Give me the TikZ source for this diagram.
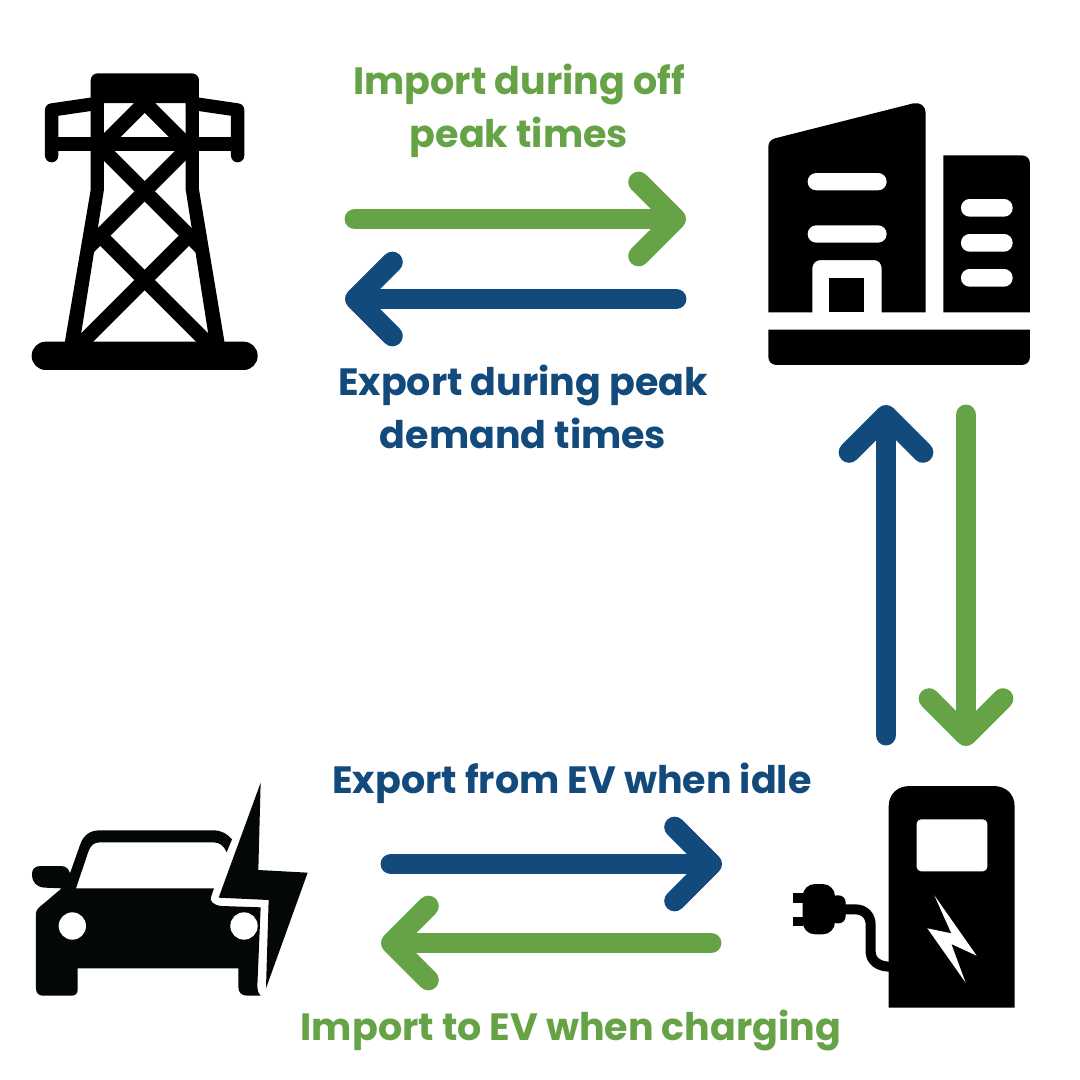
\documentclass[tikz,border=0pt]{standalone}
\usepackage{fontspec}
\setmainfont{Poppins}
\usetikzlibrary{arrows.meta}
\definecolor{ggreen}{HTML}{66A346}
\definecolor{gblue}{HTML}{134A7C}
\definecolor{carblack}{HTML}{040707}
\tikzset{
  x=0.02cm,y=-0.02cm,
  zoomed/.style={x=0.02cm/3,y=-0.02cm/3},
  flow/.style={line width=11.9pt,line cap=round,line join=round,
    -{Straight Barb[length=21pt,width=42pt,round]}},
  greenflow/.style={flow,draw=ggreen},
  blueflow/.style={flow,draw=gblue},
  label/.style={font=\fontsize{21.65pt}{30pt}\selectfont\bfseries,align=center,inner sep=0pt},
  truss/.style={draw=black,line width=8.2pt},
  frame/.style={draw=black,line width=7.6pt,line join=round},
  slot/.style={fill=white,rounded corners=4.9pt},
}
\begin{document}
\begin{tikzpicture}
\useasboundingbox[fill=white] (0,0) rectangle (1080,1080);
% transmission tower
\begin{scope}[shift={(20,60)},zoomed]
  \fill[rounded corners=4pt] (212,40) rectangle (537,129);
  \fill (212,100) rectangle (537,129);
  \fill[rounded corners=8pt] (35,845) rectangle (713,930);
  \fill (212,110) -- (212,390) -- (133,855) -- (178,855) -- (252,388) -- (252,110) -- cycle;
  \fill (537,110) -- (537,388) -- (615,855) -- (570,855) -- (497,388) -- (497,110) -- cycle;
  \draw[frame,line cap=round] (95,287) -- (95,150) -- (232,130);
  \draw[frame,line cap=round] (653,287) -- (653,150) -- (517,130);
  \draw[frame] (95,252) -- (653,252);
  \draw[truss] (374,128) -- (232,270);
  \draw[truss] (374,128) -- (516,270);
  \draw[truss] (232,252) -- (543,563);
  \draw[truss] (516,252) -- (205,563);
  \draw[truss] (232,518) -- (565,851);
  \draw[truss] (516,518) -- (183,851);
\end{scope}
% office buildings
\begin{scope}[shift={(750,90)},zoomed]
  \fill (55,667) -- (55,170) .. controls (55,155) and (65,148) .. (75,145)
    -- (490,40) .. controls (510,36) and (527,48) .. (527,68) -- (527,667)
    -- (395,667) -- (395,535) .. controls (395,520) and (385,510) .. (370,510)
    -- (213,510) .. controls (198,510) and (187,520) .. (187,535) -- (187,667) -- cycle;
  \fill (238,563) rectangle (343,667);
  \fill (580,196) -- (815,196) .. controls (830,196) and (840,206) .. (840,221) -- (840,667) -- (580,667) -- cycle;
  \fill (55,719) -- (840,719) -- (840,800) .. controls (840,815) and (830,825) .. (815,825)
    -- (80,825) .. controls (65,825) and (55,815) .. (55,800) -- cycle;
  \path[slot] (173,249) rectangle (410,301);
  \path[slot] (173,406) rectangle (410,458);
  \path[slot] (633,327) rectangle (788,380);
  \path[slot] (633,432) rectangle (788,485);
  \path[slot] (633,537) rectangle (788,590);
\end{scope}
% electric car
\begin{scope}[shift={(20,770)},zoomed,carblack]
  \fill (48,430) -- (48,655) .. controls (48,668) and (55,677) .. (68,677)
    -- (155,677) .. controls (167,677) and (173,670) .. (173,658)
    -- (173,595) -- (655,595) -- (655,650) .. controls (655,668) and (665,677) .. (682,677)
    -- (722,677) .. controls (714,668) and (712,660) .. (712,650)
    -- (722,412) -- (605,408) .. controls (580,406) and (566,392) .. (574,378)
    -- (582,355) -- (168,355) -- (205,245) .. controls (212,226) and (222,217) .. (240,217)
    -- (580,217) .. controls (600,217) and (612,228) .. (620,247)
    -- (636,208) .. controls (622,192) and (605,181) .. (580,181)
    -- (240,181) .. controls (210,181) and (190,195) .. (180,225)
    -- (150,310) .. controls (146,296) and (138,288) .. (122,288)
    -- (62,288) .. controls (44,288) and (36,298) .. (36,312)
    .. controls (36,338) and (50,352) .. (76,353)
    -- (125,355) -- (72,400) .. controls (56,412) and (48,420) .. (48,430) -- cycle;
  \fill (722,38) -- (596,383) -- (746,390) -- (738,655) -- (863,308) -- (715,300) -- cycle;
  \fill[white] (157,468) circle[radius=41];
  \fill[white] (672,468) circle[radius=41];
\end{scope}
% charging station
\begin{scope}[shift={(780,770)},zoomed]
  \fill (326,713) -- (326,110) .. controls (326,72) and (352,48) .. (390,48)
    -- (640,48) .. controls (678,48) and (704,72) .. (704,110) -- (704,713) -- cycle;
  \fill[white,rounded corners=2.5pt] (410,148) rectangle (622,304);
  \fill[white] (463,376) -- (514,490) -- (442,475) -- (557,638) -- (514,522) -- (590,557) -- cycle;
  \fill[rounded corners=7pt] (68,342) rectangle (165,493);
  \fill[rounded corners=4pt] (150,376) rectangle (197,460);
  \fill (40,368) rectangle (70,398);
  \fill (40,440) rectangle (70,468);
  \draw[line width=5.7pt] (190,418) -- (225,418) .. controls (255,418) and (272,438) .. (272,465)
    -- (272,545) .. controls (272,572) and (295,590) .. (330,590);
\end{scope}
% connector end points
\coordinate (gridOut) at (355,219);
\coordinate (bldIn) at (686,219);
\coordinate (bldOut) at (676,299);
\coordinate (gridIn) at (345,299);
\coordinate (chgOut) at (886,735);
\coordinate (bldInV) at (886,405);
\coordinate (bldOutV) at (966,415);
\coordinate (chgIn) at (966,746);
\coordinate (carOut) at (391,864);
\coordinate (chgInH) at (722,864);
\coordinate (chgOutH) at (711,943);
\coordinate (carIn) at (381,943);
\draw[greenflow] (gridOut) -- (bldIn);
\draw[blueflow] (bldOut) -- (gridIn);
\draw[blueflow] (chgOut) -- (bldInV);
\draw[greenflow] (bldOutV) -- (chgIn);
\draw[blueflow] (carOut) -- (chgInH);
\draw[greenflow] (chgOutH) -- (carIn);
% labels
\node[label,text=ggreen] (impOff) at (519,111) {Import during off\\peak times};
\node[label,text=gblue] (expPeak) at (523,407) {Export during peak\\demand times};
\node[label,text=gblue] (expIdle) at (572,783) {Export from EV when idle};
\node[label,text=ggreen] (impChg) at (571,1030) {Import to EV when charging};
\end{tikzpicture}
\end{document}
